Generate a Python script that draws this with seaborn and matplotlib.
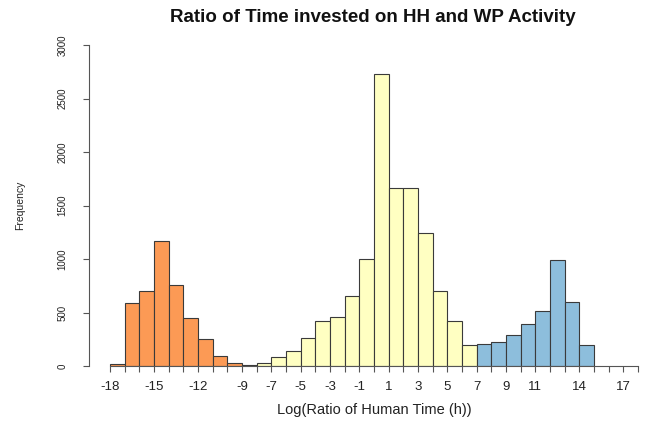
import numpy as np
import pandas as pd
import matplotlib
matplotlib.use("Agg")
import matplotlib.pyplot as plt
import seaborn as sns

# Histogram counts per unit-width bin of log(ratio of human time)
hh_edges_start = -18
hh_counts = [25, 594, 700, 1170, 756, 455, 252, 95, 28]           # bins -18 .. -9
mid_edges_start = -9
mid_counts = [15, 30, 85, 146, 264, 426, 463, 656, 1001, 2725,
              1667, 1667, 1247, 709, 429, 202]                     # bins -9 .. 7
wp_edges_start = 7
wp_counts = [208, 230, 296, 395, 516, 995, 603, 202]               # bins 7 .. 15

x_tick_positions = list(range(-18, 19))
x_tick_labels = [-18, -15, -12, -9, -7, -5, -3, -1, 1, 3, 5, 7, 9, 11, 14, 17]
y_ticks = [0, 500, 1000, 1500, 2000, 2500, 3000]

colors = ["#FC9A55", "#FFFFC2", "#8DBEDC"]

sns.set_theme(style="white")
plt.rcParams["font.family"] = ["Liberation Sans", "DejaVu Sans"]

fig = plt.figure(figsize=(6.57, 4.30), dpi=100)
ax = fig.add_axes([0.1353, 0.1477, 0.8679, 0.7477])

series = [(hh_edges_start, hh_counts), (mid_edges_start, mid_counts),
          (wp_edges_start, wp_counts)]
for (start, counts), col in zip(series, colors):
    edges = [float(start + i) for i in range(len(counts) + 1)]
    df = pd.DataFrame({"value": [e + 0.5 for e in edges[:-1]], "count": counts})
    sns.histplot(data=df, x="value", weights="count", bins=edges, ax=ax,
                 color=col, alpha=1.0, edgecolor="#3a3a3a", linewidth=0.8)

ax.set_xlim(-19.44, 19.44)
ax.set_ylim(0, 3000)

# R-style axes: only left and bottom lines, bounded to the data range
for side in ["top", "right"]:
    ax.spines[side].set_visible(False)
ax.spines["left"].set_bounds(0, 3000)
ax.spines["bottom"].set_bounds(-18, 18)
for side in ["left", "bottom"]:
    ax.spines[side].set_color("#555555")
    ax.spines[side].set_linewidth(0.8)

ax.set_xticks(x_tick_positions)
ax.set_xticklabels([str(v) if v in x_tick_labels else "" for v in x_tick_positions],
                   fontsize=9.5, color="#222222")
ax.set_yticks(y_ticks)
ax.set_yticklabels([str(v) for v in y_ticks], rotation=90, va="center",
                   fontsize=7, color="#222222")
ax.tick_params(axis="x", direction="out", length=4.2, width=0.8,
               color="#555555", pad=6, bottom=True)
ax.tick_params(axis="y", direction="out", length=4.3, width=0.8,
               color="#555555", pad=11, left=True)
ax.grid(False)

ax.set_xlabel("Log(Ratio of Human Time (h))", fontsize=10.5, color="#222222",
              va="center")
ax.xaxis.set_label_coords(0.5, -0.135)
ax.set_ylabel("Frequency", fontsize=7.5, color="#222222", va="center")
ax.yaxis.set_label_coords(-0.121, 0.502)

ax.set_title("Ratio of Time invested on HH and WP Activity", fontsize=13.5,
             fontweight="bold", color="#111111", va="center", x=0.498, y=1.084,
             pad=0)

fig.savefig("out.png", dpi=100)
